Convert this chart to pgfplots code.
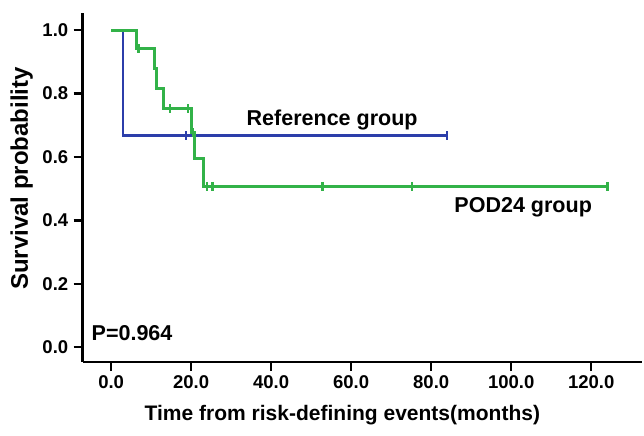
\documentclass[border=0pt]{standalone}
\usepackage{fontspec}
\setmainfont{Liberation Sans}
\usepackage{pgfplots}
\pgfplotsset{compat=1.18}

\definecolor{refblue}{RGB}{44,62,170}
\definecolor{podgreen}{RGB}{50,178,72}

\newcommand{\tickfont}{\fontsize{18.5}{20}\selectfont\bfseries}
\newcommand{\xlabfont}{\fontsize{21}{23}\selectfont\bfseries}
\newcommand{\ylabfont}{\fontsize{24}{26}\selectfont\bfseries}
\newcommand{\annfont}{\fontsize{21.5}{23}\selectfont\bfseries}

\begin{document}
\begin{tikzpicture}
\begin{axis}[
    scale only axis,
    width=559pt, height=349pt,
    xmin=-7.1, xmax=132.7,
    ymin=-0.047, ymax=1.054,
    axis lines=left,
    axis line style={-, line width=2.6pt, black},
    tick align=outside,
    major tick length=9pt,
    tick style={line width=2.2pt, black},
    xtick={0,20,...,120},
    ytick={0,0.2,...,1.0},
    /pgf/number format/.cd, fixed, fixed zerofill, precision=1,
    /pgf/number format/assume math mode=true,
    /pgfplots/.cd,
    ticklabel style={font=\tickfont},
    xticklabel style={yshift=-1pt},
    yticklabel style={xshift=-2pt},
    xlabel={Time from risk-defining events(months)},
    ylabel={Survival probability},
    xlabel style={font=\xlabfont, at={(axis description cs:0.5,0)}, anchor=center, yshift=-53pt, xshift=-20pt},
    % the label is turned, so yshift moves it left and xshift moves it up
    ylabel style={font=\ylabfont, at={(axis description cs:0,0.5)}, anchor=center, yshift=61pt, xshift=9pt},
    clip=false,
]

% Reference group
\addplot[const plot, refblue, line width=2.6pt] coordinates {
    (0,1.0) (3.0,0.667) (84,0.667)
};
\addplot[only marks, mark=|, mark size=4.5pt, refblue, mark options={line width=2.6pt}] coordinates {
    (18.75,0.667) (84,0.667)
};

% POD24 group
\addplot[const plot, podgreen, line width=3pt] coordinates {
    (0,1.0) (6.4,0.941) (10.8,0.878) (11.4,0.815) (13.1,0.752)
    (20.0,0.676) (20.9,0.596) (23.2,0.507) (124,0.507)
};
\addplot[only marks, mark=|, mark size=4.5pt, podgreen, mark options={line width=2.6pt}] coordinates {
    (6.8,0.941) (14.75,0.752) (19.2,0.752) (20.5,0.676)
    (24.0,0.507) (25.4,0.507) (52.8,0.507) (75.2,0.507) (124,0.507)
};

\node[font=\annfont] at (axis cs:55.25,0.716) {Reference group};
\node[font=\annfont] at (axis cs:103,0.442) {POD24 group};
\node[font=\annfont, anchor=west] at (axis cs:-5.75,0.044) {P=0.964};
\end{axis}
\pgfresetboundingbox
\useasboundingbox ([shift={(-82.7pt,-73pt)}]current axis.south west) rectangle ([shift={(2pt,13pt)}]current axis.north east);
\end{tikzpicture}
\end{document}
